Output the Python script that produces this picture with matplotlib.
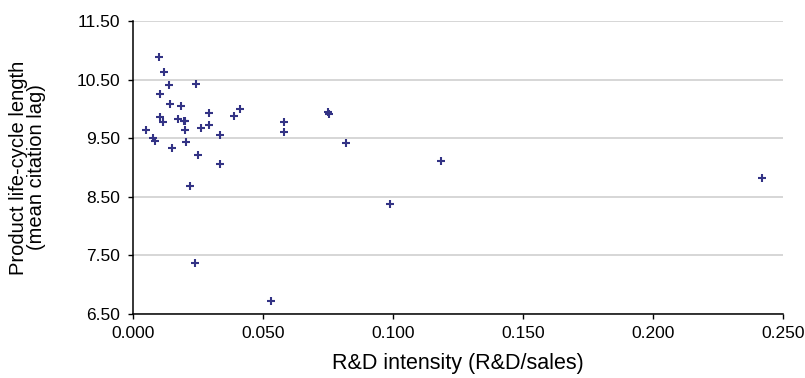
import matplotlib.pyplot as plt

# R&D intensity vs product life-cycle length
rd_intensity = [0.0100, 0.0118, 0.0138, 0.0241, 0.0103, 0.0141, 0.0183, 0.0103,
                0.0117, 0.0174, 0.0201, 0.0197, 0.0200, 0.0049, 0.0292, 0.0260,
                0.0292, 0.0388, 0.0410, 0.0336, 0.0076, 0.0083, 0.0150, 0.0202,
                0.0249, 0.0333, 0.0579, 0.0582, 0.0751, 0.0754, 0.0219, 0.0240,
                0.0529, 0.0819, 0.1184, 0.0987, 0.2420]
life_cycle = [10.89, 10.635, 10.41, 10.42, 10.25, 10.09, 10.055, 9.87,
              9.78, 9.82, 9.79, 9.79, 9.64, 9.635, 9.925, 9.68,
              9.73, 9.88, 9.99, 9.555, 9.50, 9.45, 9.33, 9.44,
              9.22, 9.065, 9.77, 9.61, 9.94, 9.92, 8.69, 7.376,
              6.73, 9.42, 9.116, 8.377, 8.82]

xticks = [0.0, 0.05, 0.10, 0.15, 0.20, 0.25]
yticks = [6.5, 7.5, 8.5, 9.5, 10.5, 11.5]

plt.rcParams['font.family'] = ['Liberation Sans', 'DejaVu Sans']

fig = plt.figure(figsize=(8.05, 3.78), dpi=100)
ax = fig.add_axes([133 / 805, 1 - 314 / 378, 650 / 805, 293 / 378])

ax.scatter(rd_intensity, life_cycle, marker='+', s=34, linewidths=1.5,
           color='#333385', zorder=3, clip_on=False)

ax.set_xlim(0, 0.25)
ax.set_ylim(6.5, 11.5)
ax.set_xticks(xticks)
ax.set_xticklabels(['%.3f' % v for v in xticks])
ax.set_yticks(yticks)
ax.set_yticklabels(['%.2f' % v for v in yticks])
ax.tick_params(labelsize=12.5, direction='out', length=3.5, width=1)
ax.tick_params(axis='x', pad=5)
ax.tick_params(axis='y', pad=6)

ax.grid(axis='y', color='#d0d0d0', linewidth=1.2)
ax.set_axisbelow(True)
for s in ['top', 'right']:
    ax.spines[s].set_visible(False)
for s in ['left', 'bottom']:
    ax.spines[s].set_linewidth(1.1)

ax.set_xlabel('R&D intensity (R&D/sales)', fontsize=15.5, labelpad=9)
ax.set_ylabel('Product life-cycle length\n(mean citation lag)', fontsize=14.5,
              labelpad=22, linespacing=0.92)

fig.savefig('out.png', dpi=100)
